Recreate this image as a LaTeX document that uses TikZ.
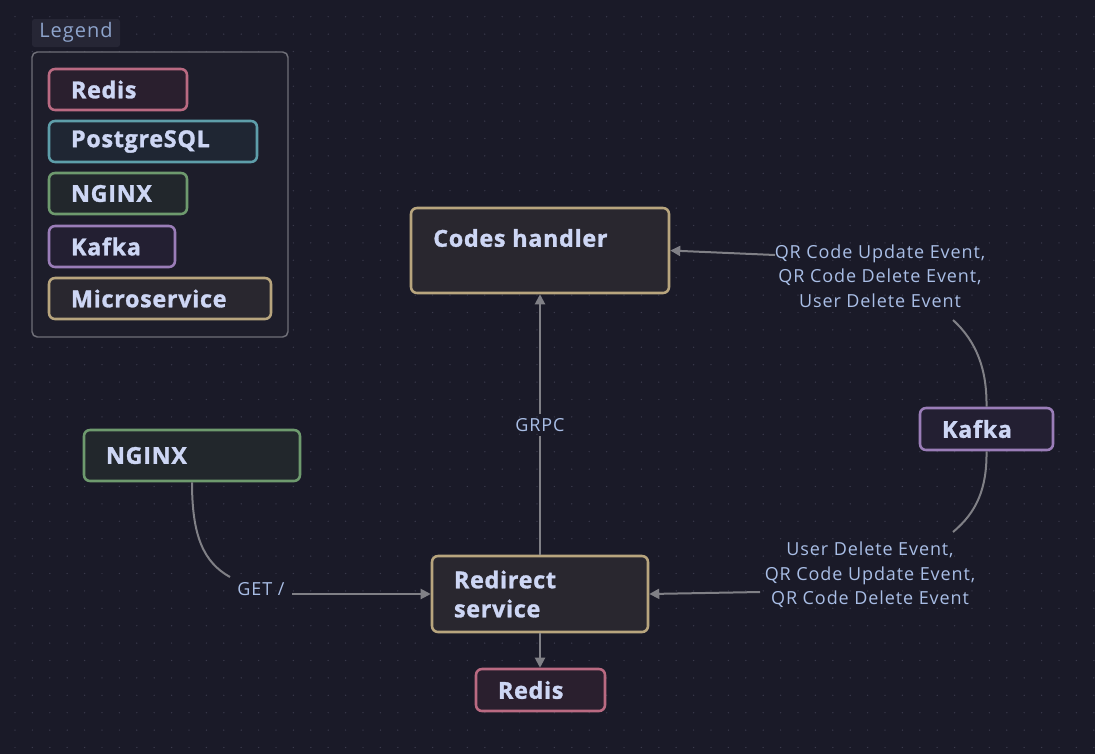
\documentclass[tikz,border=0pt]{standalone}
\usepackage{fontspec}
\setmainfont{Open Sans}
\newfontfamily\nodefont{Open Sans}[LetterSpace=3, BoldFeatures={FakeBold=1.3}]
\newfontfamily\labfont{Open Sans}[LetterSpace=5]
\usetikzlibrary{arrows.meta}
\definecolor{bg}{HTML}{1A1A28}
\definecolor{dotc}{HTML}{3A3A4C}
\definecolor{txt}{HTML}{CDD6F4}
\definecolor{lbl}{HTML}{A9BEE6}
\definecolor{edgec}{HTML}{808086}
\definecolor{redisB}{HTML}{BA6A82}\definecolor{redisF}{HTML}{2A1F2E}
\definecolor{pgB}{HTML}{5E9EAA}\definecolor{pgF}{HTML}{1F2633}
\definecolor{ngB}{HTML}{6E9A6E}\definecolor{ngF}{HTML}{22272C}
\definecolor{kfB}{HTML}{9A7DB8}\definecolor{kfF}{HTML}{231F32}
\definecolor{msB}{HTML}{B8A57E}\definecolor{msF}{HTML}{29272F}
\definecolor{lgB}{HTML}{6F6F78}\definecolor{lgF}{HTML}{1D1D2A}
\definecolor{tagF}{HTML}{262635}\definecolor{tagT}{HTML}{8EA4CC}
\tikzset{
  nfont/.style={font=\nodefont\bfseries\fontsize{17.5pt}{21.75pt}\selectfont},
  box/.style={line width=1.9pt, rounded corners=4.5pt, inner ysep=0pt, inner xsep=16.5pt,
    align=left, text=txt, nfont},
  redisbox/.style={box, draw=redisB, fill=redisF},
  pgbox/.style={box, draw=pgB, fill=pgF},
  ngbox/.style={box, draw=ngB, fill=ngF},
  kfbox/.style={box, draw=kfB, fill=kfF},
  msbox/.style={box, draw=msB, fill=msF},
  elabel/.style={text=lbl, align=center, inner sep=3pt, font=\labfont\fontsize{13.5pt}{18.4pt}\selectfont},
  edge/.style={draw=edgec, line width=1.5pt},
  arr/.style={edge, -{Triangle[length=7.5pt,width=7.5pt]}},
}
\begin{document}
\begin{tikzpicture}[x=0.75pt,y=-0.75pt]
\fill[bg] (0,0) rectangle (1095,754);
\useasboundingbox (0,0) rectangle (1095,754);
\foreach \i in {0,...,62}{\foreach \j in {0,...,42}{\fill[dotc] ({15+17.4*\i},{16.7+17.4*\j}) circle (0.55pt);}}
% legend
\node[fill=tagF, rounded corners=2pt, minimum width=66pt, minimum height=21pt, inner sep=0pt] (tag) at (76,33) {};
\node[anchor=west, text=tagT, inner sep=0pt, font=\labfont\fontsize{15pt}{18pt}\selectfont] (tagtext) at (39,32.5) {Legend};
\node[draw=lgB, fill=lgF, line width=1.1pt, rounded corners=4pt, minimum width=192pt, minimum height=213.75pt] (legend) at (160,194.5) {};
\node[redisbox, minimum width=103.5pt, minimum height=30.75pt, text width=70.5pt] (lredis) at (118,89.5) {Redis};
\node[pgbox, minimum width=156pt, minimum height=30.75pt, text width=123pt] (lpg) at (153,141.5) {PostgreSQL};
\node[ngbox, minimum width=103.5pt, minimum height=30.75pt, text width=70.5pt] (lng) at (118,193.5) {NGINX};
\node[kfbox, minimum width=94.5pt, minimum height=30.75pt, text width=61.5pt] (lkf) at (112,246.5) {Kafka};
\node[msbox, minimum width=166.5pt, minimum height=30.75pt, text width=133.5pt] (lms) at (160,298.5) {Microservice};
% main nodes
\node[msbox, minimum width=193.5pt, minimum height=63.75pt] (codes) at (540,250.5) {};
\node[anchor=west, inner sep=0pt, text=txt, nfont] (codestext) at (433,238) {Codes handler};
\node[ngbox, minimum width=162pt, minimum height=38.25pt, text width=129pt] (nginx) at (192,455.5) {NGINX};
\node[kfbox, minimum width=99.75pt, minimum height=31.5pt, text width=66.75pt] (kafka) at (986.5,429) {Kafka};
\node[msbox, minimum width=162pt, minimum height=57pt, text width=129pt] (redirect) at (540,594) {Redirect\\service};
\node[redisbox, minimum width=96.75pt, minimum height=31.5pt, text width=63.75pt] (redis) at (540.5,690) {Redis};
% labels
\node[elabel] (grpc) at (540,425) {GRPC};
\node[elabel] (getl) at (261,589) {GET /};
\node[elabel] (kl1) at (880,276) {QR Code Update Event,\\QR Code Delete Event,\\User Delete Event};
\node[elabel] (kl2) at (870,575) {User Delete Event,\\QR Code Update Event,\\QR Code Delete Event};
\coordinate (g1) at (230,577);
\coordinate (g2) at (292,594);
\coordinate (k1a) at (953,320);
\coordinate (k1b) at (775,255);
\coordinate (k2a) at (953,532);
\coordinate (k2b) at (760,592);
% edges
\draw[edge] (redirect.north) -- (grpc);
\draw[arr] (grpc) -- (codes.south);
\draw[arr] (redirect.south) -- (redirect.south |- redis.north);
\draw[edge] (nginx.south) .. controls (192,535) and (203,562) .. (g1);
\draw[arr] (g2) -- (redirect.west);
\draw[edge] (kafka.north) .. controls (987,370) and (977,342) .. (k1a);
\draw[arr] (k1b) -- (codes.east);
\draw[edge] (kafka.south) .. controls (987,488) and (977,512) .. (k2a);
\draw[arr] (k2b) -- (redirect.east);
\end{tikzpicture}
\end{document}
